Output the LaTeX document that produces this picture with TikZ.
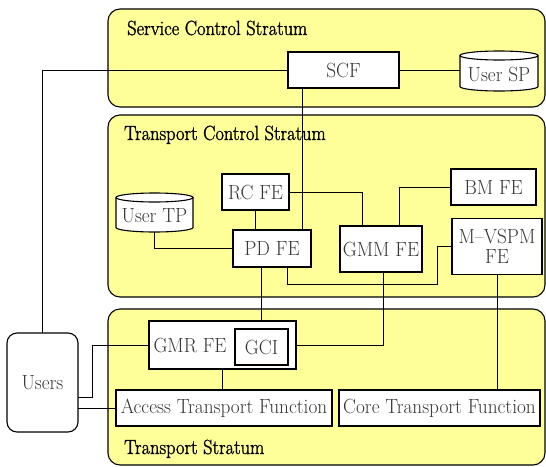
\documentclass[tikz,border=0pt]{standalone}
\usepackage{fontspec}
\newfontfamily\boxfont[FakeStretch=0.94, Ligatures=TeX]{Latin Modern Roman}
\newfontfamily\titlefont[FakeStretch=0.9, FakeBold=1.3, Ligatures=TeX]{Latin Modern Roman}
\usetikzlibrary{calc}

\definecolor{stratumfill}{RGB}{255,255,153}
\definecolor{labelgray}{RGB}{55,55,55}

% database cylinder: x1, top-ellipse y, x2, bottom-ellipse y, ellipse y radius
\newcommand\dbdraw[5]{%
  \fill[white] (#1,#2) rectangle (#3,#4);
  \fill[white] ({(#1+#3)/2},#4) ellipse [x radius={(#3-#1)/2}, y radius=#5];
  \draw[boxline] (#1,#2) -- (#1,#4)
     arc [start angle=180, end angle=0, x radius={(#3-#1)/2}, y radius=#5] -- (#3,#2);
  \draw[boxline, fill=white] ({(#1+#3)/2},#2) ellipse [x radius={(#3-#1)/2}, y radius=#5];
}

\begin{document}
\begin{tikzpicture}[x=1pt, y=-1pt,
  boxline/.style={draw=black, line width=1.1pt},
  stratum/.style={draw=black, line width=1.1pt, fill=stratumfill, rounded corners=12pt},
  stratumtitle/.style={anchor=base west, inner sep=0pt, text=black,
    font=\titlefont\fontsize{20.5}{22}\selectfont},
  fe/.style={boxline, fill=white, inner sep=0pt, align=center, text=labelgray,
    font=\boxfont\fontsize{20.5}{20}\selectfont},
  txt/.style={inner sep=0pt, text=labelgray, font=\boxfont\fontsize{20.5}{20}\selectfont},
  dbarea/.style={inner sep=0pt},
  link/.style={draw=black, line width=0.9pt}]

\useasboundingbox (0,0) rectangle (546,466);

% strata
\draw[stratum] (108,9) rectangle (545,107);
\draw[stratum] (108,115) rectangle (545,297);
\draw[stratum] (108,309) rectangle (545,465);
\node[stratumtitle] (svctitle) at (127,35) {Service Control Stratum};
\node[stratumtitle] (tcstitle) at (124,140) {Transport Control Stratum};
\node[stratumtitle] (tstitle) at (124,454) {Transport Stratum};

% node outlines (used by the connectors)
\node[dbarea, minimum width=111pt, minimum height=36pt] (scf) at (343.5,70) {};
\node[dbarea, minimum width=78pt, minimum height=40pt] (usersp) at (499,71) {};
\node[dbarea, minimum width=67pt, minimum height=36pt] (rcfe) at (255.5,192) {};
\node[dbarea, minimum width=78pt, minimum height=37pt] (pdfe) at (272,248.5) {};
\node[dbarea, minimum width=77pt, minimum height=39pt] (usertp) at (154.5,212.5) {};
\node[dbarea, minimum width=82pt, minimum height=46pt] (gmmfe) at (381,249) {};
\node[dbarea, minimum width=85pt, minimum height=36pt] (bmfe) at (493.5,187) {};
\node[dbarea, minimum width=90pt, minimum height=56pt] (mvspm) at (497,246.5) {};
\node[dbarea, minimum width=147pt, minimum height=48pt] (gmr) at (222.5,345) {};
\node[dbarea, minimum width=216pt, minimum height=36pt] (atf) at (224,408) {};
\node[dbarea, minimum width=201pt, minimum height=36pt] (ctf) at (439.5,408) {};
\node[dbarea, minimum width=71pt, minimum height=99pt] (users) at (42.5,382.5) {};

% connectors
\draw[link] (users.north) |- (scf.west);
\draw[link] (scf.east) -- (scf.east -| usersp.west);
\draw[link] ([xshift=-9pt]pdfe.north east) -- ([xshift=-9pt]pdfe.north east |- scf.south);
\draw[link] (rcfe.south) -- (rcfe.south |- pdfe.north);
\draw[link] (rcfe.east) -| ([xshift=-19pt]gmmfe.north);
\draw[link] (bmfe.west) -| ([xshift=18pt]gmmfe.north);
\draw[link] (usertp.south) |- (pdfe.west);
\draw[link] ([xshift=15pt]pdfe.south) -- ++(0,17) -| ([xshift=-14pt]mvspm.west) -- (mvspm.west);
\draw[link] (mvspm.south) -- (mvspm.south |- ctf.north);
\draw[link] (gmr.south) -- (gmr.south |- atf.north);
\draw[link] (gmr.east) -| ([xshift=2pt]gmmfe.south);
\draw[link] ([yshift=-14.5pt]users.east) -- ++(14,0) |- (gmr.west);
\draw[link] (users.east |- atf.west) -- (atf.west);
\draw[link] (261.5,329) -- (261.5,267);

% functional entities drawn over the connectors
\node[fe, minimum width=111pt, minimum height=36pt] (scfbox) at (scf) {SCF};
\node[fe, minimum width=67pt, minimum height=36pt] (rcbox) at (rcfe) {RC FE};
\node[fe, minimum width=78pt, minimum height=37pt] (pdbox) at (pdfe) {PD FE};
\node[fe, minimum width=82pt, minimum height=46pt] (gmmbox) at (gmmfe) {GMM FE};
\node[fe, minimum width=85pt, minimum height=36pt] (bmbox) at (bmfe) {BM FE};
\node[fe, minimum width=90pt, minimum height=56pt] (mvspmbox) at (mvspm) {M--VSPM\\FE};
\node[fe, minimum width=147pt, minimum height=48pt] (gmrbox) at (gmr) {};
\node[fe, minimum width=216pt, minimum height=36pt] (atfbox) at (atf) {Access Transport Function};
\node[fe, minimum width=201pt, minimum height=36pt] (ctfbox) at (ctf) {Core Transport Function};
\node[fe, rounded corners=10pt, minimum width=71pt, minimum height=99pt] (usersbox) at (users) {Users};

% GMR FE with its GCI
\node[txt] (gmrlabel) at (190,345) {GMR FE};
\node[fe, minimum width=53pt, minimum height=36pt] (gci) at (261.5,347) {GCI};

% user profile stores
\dbdraw{460}{55.5}{538}{86.5}{4.5}
\node[txt] (usersplabel) at (499,74) {User SP};
\dbdraw{116}{197.5}{193}{227.5}{4.5}
\node[txt] (usertplabel) at (154.5,216) {User TP};

\end{tikzpicture}
\end{document}
